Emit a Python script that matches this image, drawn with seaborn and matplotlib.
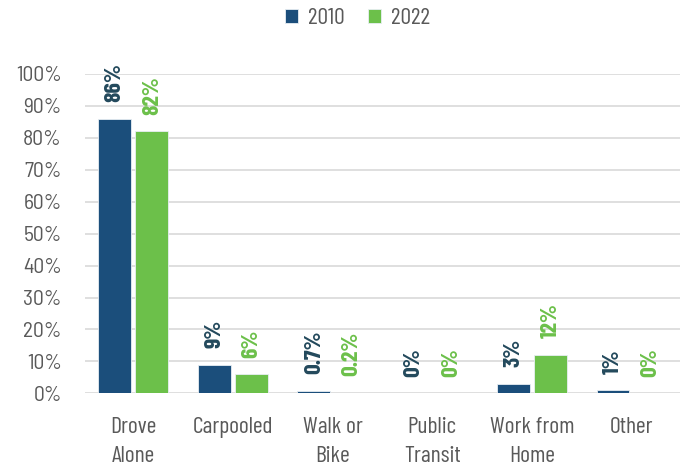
import pandas as pd
import matplotlib.pyplot as plt
import seaborn as sns

categories = ["Drove\nAlone", "Carpooled", "Walk or\nBike", "Public\nTransit", "Work from\nHome", "Other"]
years = ["2010", "2022"]
values_2010 = [86, 9, 0.7, 0, 3, 1]
values_2022 = [82, 6, 0.2, 0, 12, 0]
labels_2010 = ["86%", "9%", "0.7%", "0%", "3%", "1%"]
labels_2022 = ["82%", "6%", "0.2%", "0%", "12%", "0%"]

bar_colors = {"2010": "#1b4e7b", "2022": "#6cc04a"}
label_colors = {"2010": "#23495c", "2022": "#6cc04a"}
gray = "#595959"

sns.set_theme(style="white")
plt.rcParams['font.family'] = ['Barlow Condensed', 'DejaVu Sans']

df = pd.DataFrame({
    "category": categories * 2,
    "year": ["2010"] * len(categories) + ["2022"] * len(categories),
    "value": values_2010 + values_2022,
})

fig, ax = plt.subplots(figsize=(6.83, 4.70), dpi=100)
fig.subplots_adjust(left=0.125, right=0.995, top=0.843, bottom=0.163)

sns.barplot(data=df, x="category", y="value", hue="year", palette=bar_colors, saturation=1,
            width=0.75, gap=0.12, ax=ax, linewidth=0.6, edgecolor="#e8eef3")

# Etichette dei valori ruotate sopra le barre
for container, year, labels in zip(ax.containers, years, [labels_2010, labels_2022]):
    ax.bar_label(container, labels=labels, rotation=90, padding=12,
                 fontsize=17, fontweight="bold", color=label_colors[year], clip_on=False)

ax.set_ylim(0, 100)
ax.set_xlim(-0.48, 5.48)
ax.set_yticks(range(0, 101, 10))
ax.set_yticklabels([f"{v}%" for v in range(0, 101, 10)],
                   family=['Barlow Semi Condensed', 'DejaVu Sans'])
ax.yaxis.grid(True, color="#d9d9d9", linewidth=1.2)
ax.set_axisbelow(True)
for s in ax.spines.values():
    s.set_visible(False)
ax.set_xlabel("")
ax.set_ylabel("")
ax.tick_params(axis="y", labelsize=15.5, colors=gray, pad=17, length=0)
ax.tick_params(axis="x", labelsize=17, colors=gray, pad=17, length=0)
for t in ax.get_xticklabels():
    t.set_linespacing(1.5)
    t.set_verticalalignment("top")

handles, lbls = ax.get_legend_handles_labels()
ax.legend(handles, lbls, loc="center", bbox_to_anchor=(0.458, 1.172), ncol=2,
          frameon=False, fontsize=17, labelcolor=gray, handlelength=0.55,
          handleheight=0.55, handletextpad=0.4, columnspacing=1.0)

plt.savefig("out.png", dpi=100)
plt.close()
